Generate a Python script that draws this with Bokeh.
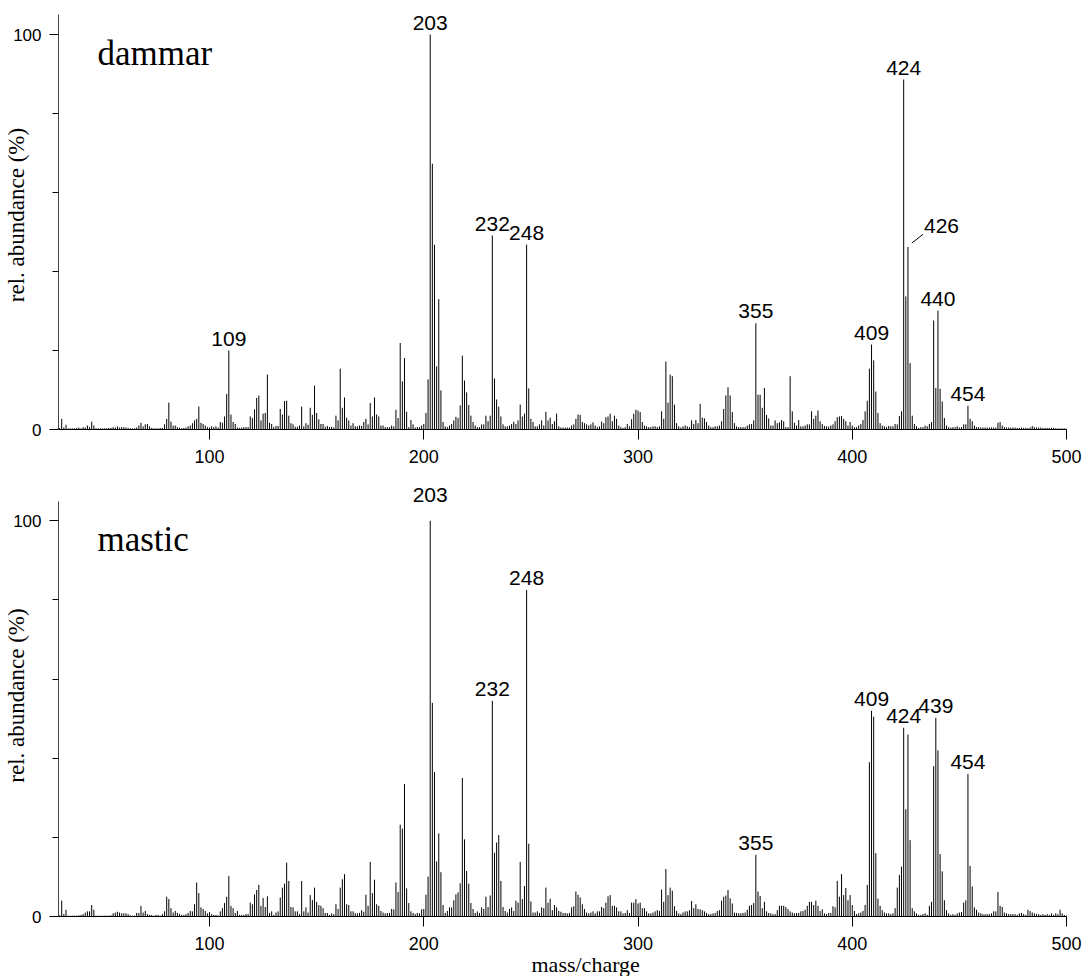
from bokeh.plotting import figure
from bokeh.models import FixedTicker, Range1d, Label, Title
from bokeh.layouts import column
from bokeh.core.properties import value
from bokeh.embed import file_html
from bokeh.resources import INLINE

FIRST_MASS = 30
dammar = [
    0.4, 2.7, 0.5, 1.2, 0.3, 0.3, 0.3, 0.3, 0.4, 0.5,
    0.3, 0.6, 0.5, 1.0, 0.6, 2.0, 1.0, 0.3, 0.3, 0.3,
    0.3, 0.3, 0.3, 0.4, 0.4, 0.6, 0.5, 0.8, 0.5, 0.6,
    0.6, 0.5, 0.4, 0.3, 0.3, 0.3, 0.5, 1.0, 1.7, 0.8,
    1.3, 1.4, 0.8, 0.4, 0.3, 0.3, 0.3, 0.4, 0.4, 1.3,
    2.7, 6.8, 2.0, 1.0, 1.0, 0.6, 0.4, 0.3, 0.4, 0.5,
    0.8, 1.0, 1.6, 2.3, 2.7, 5.8, 1.7, 1.4, 1.0, 0.6,
    0.5, 0.8, 0.6, 0.8, 0.5, 1.9, 1.7, 3.3, 9.0, 20.0,
    3.8, 1.9, 1.4, 0.5, 0.4, 0.5, 0.6, 0.6, 0.6, 3.3,
    2.9, 5.1, 8.0, 8.6, 2.3, 4.0, 4.2, 13.9, 1.7, 1.4,
    0.6, 0.9, 0.9, 5.2, 3.8, 7.2, 7.3, 3.5, 1.6, 1.3,
    0.7, 0.7, 1.0, 5.8, 0.8, 1.6, 1.2, 5.5, 3.7, 11.1,
    4.2, 2.6, 1.4, 1.4, 0.7, 0.9, 0.6, 0.7, 0.5, 3.5,
    2.3, 15.4, 5.5, 8.1, 3.0, 2.3, 1.0, 1.6, 0.8, 0.8,
    1.0, 0.9, 1.9, 2.7, 1.3, 6.7, 3.3, 8.1, 3.8, 3.3,
    1.0, 1.0, 0.6, 0.6, 0.6, 1.0, 0.8, 5.0, 2.9, 21.9,
    12.2, 18.1, 4.5, 0.6, 2.4, 1.3, 0.5, 0.6, 0.6, 1.0,
    1.4, 4.2, 12.7, 100.0, 67.3, 46.8, 16.0, 33.0, 9.9, 1.9,
    0.8, 0.6, 1.0, 1.4, 2.3, 3.2, 2.9, 6.1, 18.7, 12.4,
    9.4, 6.2, 3.5, 1.9, 1.0, 0.6, 0.6, 1.3, 1.3, 3.5,
    2.1, 3.5, 49.1, 12.9, 7.6, 5.8, 3.3, 1.3, 0.8, 0.8,
    1.0, 1.4, 2.0, 1.4, 2.3, 6.3, 3.3, 4.0, 46.8, 10.4,
    2.7, 1.9, 0.8, 0.8, 1.3, 2.3, 1.0, 4.5, 2.3, 3.0,
    1.4, 2.1, 4.0, 0.8, 0.5, 0.5, 0.5, 0.5, 0.5, 1.0,
    1.3, 2.7, 3.8, 3.7, 1.9, 1.6, 1.3, 1.0, 1.3, 1.8,
    1.0, 0.6, 0.8, 2.0, 1.6, 3.1, 3.3, 4.0, 2.1, 3.5,
    2.7, 1.0, 0.6, 0.4, 0.6, 1.4, 0.8, 2.6, 4.0, 5.0,
    4.8, 4.4, 1.9, 1.0, 0.8, 0.6, 0.6, 0.8, 0.8, 0.6,
    0.8, 4.6, 2.7, 17.2, 6.8, 13.9, 13.5, 6.3, 1.6, 0.8,
    0.5, 0.8, 1.0, 0.8, 0.6, 2.3, 1.4, 2.4, 1.6, 6.5,
    3.0, 2.8, 1.9, 1.0, 0.6, 0.6, 0.8, 0.8, 1.0, 2.1,
    5.2, 8.6, 10.7, 8.6, 4.4, 1.6, 0.8, 0.6, 0.6, 0.6,
    0.6, 1.0, 1.3, 1.4, 2.3, 26.9, 8.8, 8.8, 5.5, 10.5,
    3.7, 2.8, 1.0, 1.0, 2.3, 1.6, 1.8, 2.4, 2.1, 0.6,
    0.6, 13.5, 4.6, 1.7, 1.0, 2.4, 0.8, 0.8, 1.0, 1.3,
    1.3, 4.6, 2.7, 3.5, 4.8, 2.1, 1.4, 0.9, 0.8, 0.7,
    1.0, 1.3, 2.1, 3.1, 3.3, 3.4, 2.7, 2.1, 1.0, 1.9,
    1.0, 0.6, 0.6, 1.0, 1.4, 2.4, 4.6, 7.3, 15.4, 21.5,
    17.5, 9.6, 4.2, 1.6, 1.0, 0.8, 0.6, 0.9, 0.8, 0.8,
    1.4, 1.3, 3.4, 4.6, 88.6, 33.7, 46.2, 16.8, 3.5, 1.4,
    0.8, 0.4, 0.6, 0.6, 1.0, 0.8, 1.4, 1.9, 27.6, 10.5,
    30.1, 10.3, 7.1, 2.9, 1.0, 0.6, 0.5, 0.6, 0.6, 0.8,
    0.5, 0.6, 1.3, 1.3, 6.0, 2.7, 2.1, 1.0, 0.6, 0.6,
    0.5, 0.5, 0.5, 0.5, 0.5, 0.5, 0.5, 0.5, 1.7, 1.9,
    1.0, 0.6, 0.5, 0.5, 0.5, 0.5, 0.5, 0.4, 0.4, 0.5,
    0.4, 0.4, 0.4, 0.5, 0.9, 0.6, 0.5, 0.5, 0.5, 0.4,
    0.4, 0.4, 0.4, 0.4, 0.4, 0.3, 0.3, 0.3, 0.3, 0.3,
    0.3,
]
mastic = [
    0.3, 4.0, 0.6, 1.7, 0.2, 0.2, 0.2, 0.2, 0.2, 0.3,
    0.4, 0.6, 1.0, 1.3, 1.3, 2.9, 1.7, 0.2, 0.2, 0.2,
    0.2, 0.2, 0.2, 0.2, 0.3, 0.8, 1.0, 1.2, 1.0, 0.8,
    0.8, 0.8, 0.6, 0.3, 0.2, 0.2, 0.9, 0.9, 2.7, 1.0,
    1.4, 0.6, 0.4, 0.4, 0.2, 0.4, 0.4, 0.2, 0.6, 1.3,
    5.0, 4.4, 2.1, 1.0, 1.4, 0.9, 0.6, 0.4, 0.4, 0.6,
    0.9, 1.4, 1.3, 3.1, 8.6, 5.9, 2.3, 1.9, 1.4, 0.8,
    1.1, 0.6, 0.4, 0.4, 0.3, 1.3, 2.1, 3.4, 5.0, 10.2,
    2.7, 2.1, 0.9, 1.4, 0.4, 0.4, 0.4, 0.6, 0.6, 3.5,
    3.1, 5.6, 6.7, 8.0, 2.7, 4.7, 2.4, 5.1, 0.9, 1.3,
    0.4, 1.0, 1.3, 4.8, 7.3, 8.3, 13.6, 9.0, 2.4, 2.3,
    1.3, 1.3, 0.6, 9.0, 1.3, 2.3, 1.0, 5.4, 4.2, 7.3,
    3.7, 2.9, 2.7, 2.1, 0.9, 0.9, 0.4, 0.8, 0.6, 3.1,
    1.9, 7.3, 9.4, 10.7, 3.1, 2.9, 1.3, 1.3, 0.8, 0.8,
    0.9, 1.6, 1.2, 5.5, 2.7, 13.8, 5.9, 9.3, 3.1, 2.7,
    1.4, 1.0, 0.8, 0.9, 0.9, 1.9, 1.8, 8.6, 6.2, 23.2,
    22.2, 33.5, 7.1, 3.4, 1.3, 0.9, 0.6, 0.9, 0.8, 1.8,
    1.9, 5.5, 10.1, 100.0, 54.0, 36.5, 13.9, 21.0, 11.2, 2.9,
    0.9, 1.4, 2.3, 2.3, 4.1, 5.6, 6.1, 8.4, 35.0, 19.5,
    11.5, 8.3, 3.4, 1.9, 0.9, 1.3, 0.9, 2.3, 1.9, 5.0,
    2.4, 5.3, 54.5, 16.1, 18.7, 20.6, 9.0, 2.4, 1.4, 1.0,
    1.9, 2.3, 1.4, 4.0, 3.5, 13.8, 4.4, 7.7, 82.5, 18.4,
    3.8, 1.0, 1.0, 1.3, 0.9, 2.3, 2.1, 7.3, 3.5, 4.5,
    1.6, 2.9, 2.3, 1.4, 1.2, 0.9, 0.9, 0.8, 0.9, 2.3,
    2.6, 6.3, 5.5, 4.8, 3.1, 1.9, 1.0, 0.8, 1.0, 1.3,
    0.8, 1.3, 1.3, 2.4, 2.1, 3.5, 5.1, 5.4, 2.7, 2.7,
    2.3, 1.3, 1.3, 0.8, 0.9, 1.6, 0.9, 3.5, 3.5, 4.4,
    3.3, 3.5, 2.1, 2.1, 1.3, 0.8, 0.8, 1.0, 1.3, 1.6,
    1.4, 6.8, 3.7, 12.0, 5.4, 7.3, 6.5, 2.6, 1.4, 0.8,
    0.6, 1.0, 1.3, 1.3, 1.6, 3.9, 2.1, 3.1, 1.9, 1.8,
    1.6, 1.3, 0.9, 0.6, 0.6, 0.8, 0.9, 1.4, 1.6, 4.0,
    5.0, 5.3, 6.7, 4.6, 3.3, 1.0, 0.9, 0.8, 0.8, 0.9,
    1.0, 1.7, 2.7, 2.9, 3.4, 15.6, 6.3, 5.2, 2.1, 3.7,
    1.3, 0.9, 0.8, 0.6, 0.6, 1.6, 2.7, 2.7, 2.7, 2.4,
    1.9, 1.3, 1.0, 0.8, 0.9, 0.9, 1.3, 1.4, 1.7, 2.7,
    3.7, 3.7, 2.9, 4.0, 2.7, 1.4, 1.8, 0.8, 0.6, 0.9,
    0.9, 2.6, 2.3, 9.0, 5.0, 10.7, 5.4, 7.2, 4.1, 5.4,
    2.9, 1.4, 0.6, 0.8, 1.0, 1.4, 2.9, 8.0, 39.0, 52.0,
    50.5, 16.0, 4.5, 2.7, 1.6, 1.0, 0.8, 0.8, 0.6, 0.8,
    2.1, 7.3, 10.5, 12.6, 47.7, 27.1, 46.0, 19.3, 2.1, 1.3,
    0.8, 0.4, 0.4, 0.6, 0.8, 0.4, 2.7, 3.7, 38.0, 50.2,
    42.0, 15.8, 11.4, 4.1, 1.6, 0.8, 0.4, 0.6, 0.4, 0.8,
    1.0, 1.1, 3.5, 4.1, 36.0, 12.8, 7.6, 2.3, 1.7, 1.0,
    0.8, 0.6, 0.6, 0.6, 0.6, 0.8, 1.3, 1.3, 6.2, 2.7,
    2.4, 1.0, 0.8, 0.6, 0.6, 0.6, 0.6, 0.4, 0.8, 0.9,
    0.6, 0.4, 1.7, 1.4, 1.0, 0.8, 0.6, 0.6, 0.4, 0.6,
    0.4, 0.6, 0.4, 0.8, 0.4, 0.8, 0.6, 1.7, 0.8, 0.4,
    0.4,
]
masses = list(range(FIRST_MASS, FIRST_MASS + len(dammar)))

dammar_peaks = [109, 203, 232, 248, 355, 409, 424, 440, 454]
dammar_side_peak = 426
mastic_peaks = [203, 232, 248, 355, 409, 424, 439, 454]
x_ticks = [100, 200, 300, 400, 500]
y_ticks = [0, 100]
y_minor_ticks = [20, 40, 60, 80]

SANS = value("Liberation Sans")
XMIN, XMAX = 29.5, 500


def panel(vals, name, peaks, height, bottom_border, ymax, axis_top,
          label_offsets):
    p = figure(width=1085, height=height, x_range=Range1d(XMIN, XMAX),
               y_range=Range1d(0, ymax), output_backend="svg",
               toolbar_location=None, min_border_left=58, min_border_right=19,
               min_border_top=0, min_border_bottom=bottom_border)
    p.outline_line_color = None
    p.xgrid.visible = False
    p.ygrid.visible = False
    p.background_fill_color = "white"
    p.border_fill_color = "white"

    p.segment(x0=masses, y0=[0] * len(masses), x1=masses, y1=vals,
              line_color="black", line_width=1)

    xa = p.xaxis[0]
    xa.ticker = FixedTicker(ticks=x_ticks, minor_ticks=[])
    xa.major_tick_out = 10
    xa.major_tick_in = 0
    xa.minor_tick_out = 0
    xa.axis_line_color = "black"
    xa.major_tick_line_color = "black"
    xa.major_label_text_font = "Liberation Sans"
    xa.major_label_text_font_size = "18px"
    xa.major_label_text_color = "black"
    xa.major_label_standoff = 10

    ya = p.yaxis[0]
    ya.ticker = FixedTicker(ticks=y_ticks, minor_ticks=y_minor_ticks)
    ya.bounds = (0, axis_top)
    ya.major_tick_out = 9
    ya.major_tick_in = 0
    ya.minor_tick_out = 6
    ya.minor_tick_in = 0
    ya.axis_line_color = "#444444"
    ya.major_tick_line_color = "black"
    ya.minor_tick_line_color = "black"
    ya.major_label_text_font = "Liberation Sans"
    ya.major_label_text_font_size = "17px"
    ya.major_label_text_color = "black"
    ya.major_label_standoff = 8
    ya.axis_label = "rel. abundance (%)"
    ya.axis_label_text_font = "Liberation Serif"
    ya.axis_label_text_font_style = "normal"
    ya.axis_label_text_font_size = "23px"
    ya.axis_label_text_color = "black"
    ya.axis_label_standoff = -19

    ly = [vals[m - FIRST_MASS] for m in peaks]
    p.text(x=peaks, y=ly, text=[str(m) for m in peaks], text_font=SANS,
           text_font_size="21px", text_align="center",
           text_baseline="alphabetic", y_offset=label_offsets,
           text_color="black")

    p.add_layout(Label(x=47.7, y=95.2, text=name, text_font="Liberation Serif",
                       text_font_size="35px", text_align="left",
                       text_baseline="alphabetic", text_color="black"))
    return p


# top panel: canvas y 0..474, frame bottom (y = 0) at y 429
top = panel(dammar, "dammar", dammar_peaks, 474, 45, 429 / 3.95, 105.06,
            [-12] * len(dammar_peaks))
v426 = dammar[dammar_side_peak - FIRST_MASS]
top.segment(x0=[dammar_side_peak + 1.8], y0=[v426 + 1.0],
            x1=[dammar_side_peak + 7.0], y1=[v426 + 3.2],
            line_color="black", line_width=1)
top.text(x=[dammar_side_peak], y=[v426], text=[str(dammar_side_peak)],
         text_font=SANS, text_font_size="21px", text_align="left",
         text_baseline="alphabetic", x_offset=16, y_offset=-21,
         text_color="black")

# bottom panel: canvas y 474..976, frame bottom at y 916
bot = panel(mastic, "mastic", mastic_peaks, 502, 60, 442 / 3.957, 104.8,
            [-26, -12, -12, -12, -12, -12, -12, -12])
bot.add_layout(Title(text="mass/charge", align="left", offset=473,
                     text_font="Liberation Serif", text_font_style="normal",
                     text_font_size="22px", text_color="black", standoff=-6),
               "below")

layout = column(top, bot, spacing=0)
open("out.html", "w").write(file_html(layout, INLINE))
